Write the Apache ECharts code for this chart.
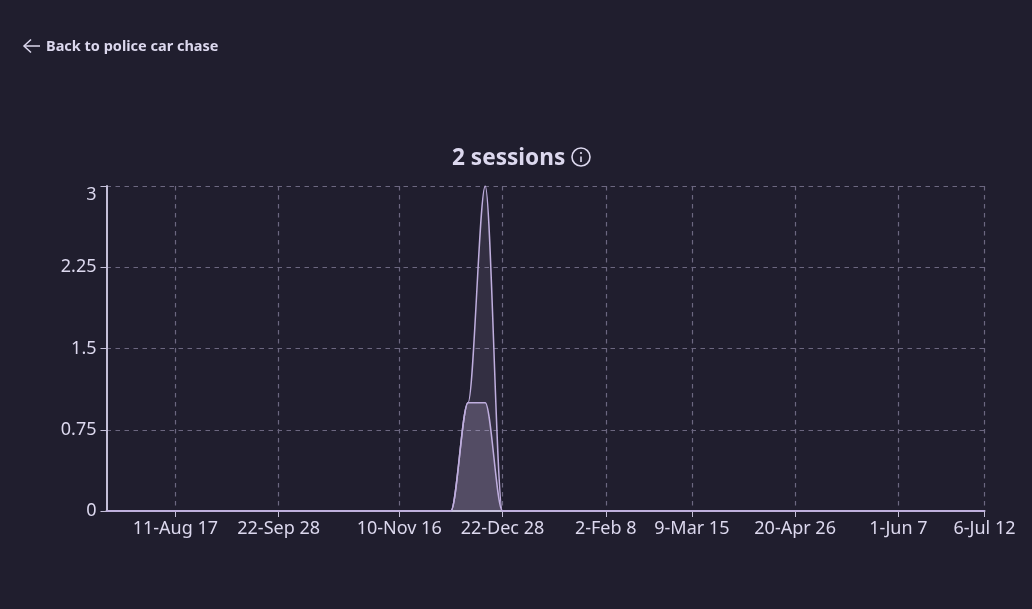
<!DOCTYPE html>
<html><head><meta charset="utf-8">
<style>html,body{margin:0;padding:0;background:#201e2e}#c{width:1032px;height:609px}</style>
<script src="https://cdn.jsdelivr.net/npm/echarts@6/dist/echarts.min.js"></script></head>
<body><div id="c"></div>
<script>
const weeks = ["14-Jul 20","21-Jul 27","28-Jul 3","4-Aug 10","11-Aug 17","18-Aug 24","25-Aug 31","1-Sep 7","8-Sep 14","15-Sep 21","22-Sep 28","29-Sep 5","6-Oct 12","13-Oct 19","20-Oct 26","27-Oct 2","3-Nov 9","10-Nov 16","17-Nov 23","24-Nov 30","1-Dec 7","8-Dec 14","15-Dec 21","22-Dec 28","29-Dec 4","5-Jan 11","12-Jan 18","19-Jan 25","26-Jan 1","2-Feb 8","9-Feb 15","16-Feb 22","23-Feb 1","2-Mar 8","9-Mar 15","16-Mar 22","23-Mar 29","30-Mar 5","6-Apr 12","13-Apr 19","20-Apr 26","27-Apr 3","4-May 10","11-May 17","18-May 24","25-May 31","1-Jun 7","8-Jun 14","15-Jun 21","22-Jun 28","29-Jun 5","6-Jul 12"];
const labelled = [4,10,17,23,29,34,40,46,51];
const seriesTall = [0,0,0,0,0,0,0,0,0,0,0,0,0,0,0,0,0,0,0,0,0,1,3,0,0,0,0,0,0,0,0,0,0,0,0,0,0,0,0,0,0,0,0,0,0,0,0,0,0,0,0,0];
const seriesFlat = [0,0,0,0,0,0,0,0,0,0,0,0,0,0,0,0,0,0,0,0,0,1,1,0,0,0,0,0,0,0,0,0,0,0,0,0,0,0,0,0,0,0,0,0,0,0,0,0,0,0,0,0];
const FONT = '"Noto Sans"';
const TXT = '#dcd8ee', AXIS='#c4bfd8', GRID='#6c6780', LINE='#bfaede';
const show = (i)=>labelled.includes(i);
const mk = (name,data,alpha)=>({name,type:'line',data,smooth:0.33,smoothMonotone:'x',symbol:'none',silent:true,
  lineStyle:{color:LINE,width:1.5},areaStyle:{color:`rgba(200,184,228,${alpha})`}});
const chart = echarts.init(document.getElementById('c'),null,{renderer:'canvas'});
chart.setOption({
  animation:false,backgroundColor:'#201e2e',
  grid:{left:106.5,right:47.5,top:186,bottom:98,containLabel:false},
  xAxis:{type:'category',boundaryGap:false,data:weeks,
    axisLine:{lineStyle:{color:AXIS,width:2}},
    axisTick:{show:true,interval:show,length:6,lineStyle:{color:AXIS,width:1}},
    axisLabel:{interval:show,color:TXT,fontFamily:FONT,fontSize:18,margin:9,hideOverlap:false},
    splitLine:{show:true,interval:show,lineStyle:{color:GRID,type:[4.5,4.5],width:1.2}}},
  yAxis:{type:'value',min:0,max:3,interval:0.75,
    axisLine:{show:true,lineStyle:{color:AXIS,width:2}},
    axisTick:{show:true,length:6,lineStyle:{color:AXIS,width:1}},
    axisLabel:{color:TXT,fontFamily:FONT,fontSize:18,margin:10,verticalAlignMaxLabel:'top',
      formatter:v=>String(v)},
    splitLine:{show:true,lineStyle:{color:GRID,type:[4.5,4.5],width:1.2}}},
  series:[mk('tall',seriesTall,0.16),mk('flat',seriesFlat,0.31)],
  graphic:[
    {type:'text',left:46,top:39,style:{text:'Back to police car chase',fill:TXT,font:'700 14.5px '+FONT}},
    {type:'polyline',shape:{points:[[24,46],[40,46]]},style:{stroke:TXT,lineWidth:1.5,fill:null}},
    {type:'polyline',shape:{points:[[31,39.5],[24,46],[31,52.5]]},style:{stroke:TXT,lineWidth:1.5,fill:null}},
    {type:'text',left:452,top:147,style:{text:'2 sessions',fill:TXT,font:'700 22.6px '+FONT}},
    {type:'circle',shape:{cx:581,cy:157,r:9},style:{stroke:TXT,lineWidth:1.6,fill:null}},
    {type:'circle',shape:{cx:581,cy:153,r:1.1},style:{fill:TXT}},
    {type:'line',shape:{x1:581,y1:156.5,x2:581,y2:162},style:{stroke:TXT,lineWidth:1.6}}
  ]
});
</script></body></html>
